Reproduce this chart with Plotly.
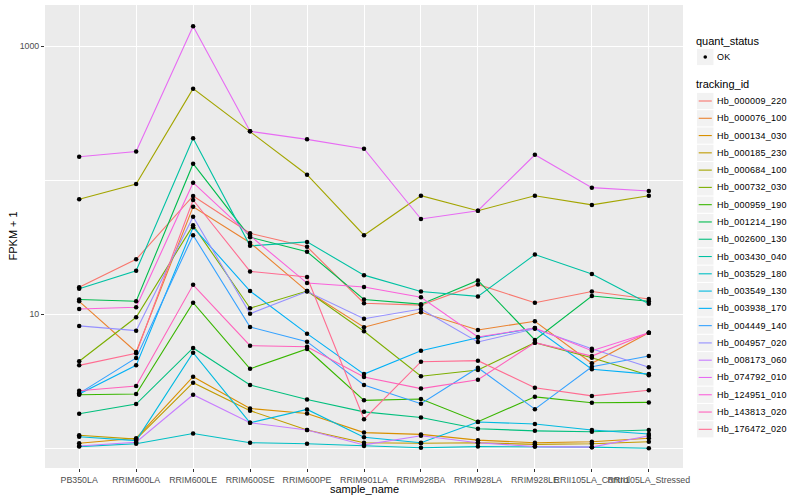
import plotly.graph_objects as go

# ---------------- data ----------------
samples = ["PB350LA", "RRIM600LA", "RRIM600LE", "RRIM600SE", "RRIM600PE", "RRIM901LA",
           "RRIM928BA", "RRIM928LA", "RRIM928LE", "RRII105LA_Control", "RRII105LA_Stressed"]

tracking_ids = ["Hb_000009_220", "Hb_000076_100", "Hb_000134_030", "Hb_000185_230", "Hb_000684_100",
                "Hb_000732_030", "Hb_000959_190", "Hb_001214_190", "Hb_002600_130", "Hb_003430_040",
                "Hb_003529_180", "Hb_003549_130", "Hb_003938_170", "Hb_004449_140", "Hb_004957_020",
                "Hb_008173_060", "Hb_074792_010", "Hb_124951_010", "Hb_143813_020", "Hb_176472_020"]

colors = ["#F8766D", "#EA8331", "#D89000", "#C09B00", "#A3A500", "#7CAE00", "#39B600", "#00BB4E",
          "#00BF7D", "#00C1A3", "#00BFC4", "#00BAE0", "#00B0F6", "#35A2FF", "#9590FF", "#C77CFF",
          "#E76BF3", "#FA62DB", "#FF62BC", "#FF6C91"]

# FPKM + 1 per sample
hb_000009_220 = [15.9, 25.7, 76.4, 40.2, 31.9, 12.1, 11.7, 16.7, 12.2, 14.8, 13.0]
hb_000076_100 = [12.5, 5.23, 63.5, 34.2, 14.9, 8.0, 10.35, 7.64, 8.87, 4.31, 7.29]
hb_000134_030 = [1.09, 1.19, 3.42, 1.98, 1.82, 1.31, 1.27, 1.15, 1.10, 1.12, 1.19]
hb_000185_230 = [1.25, 1.17, 3.09, 1.91, 1.37, 1.10, 1.09, 1.10, 1.07, 1.08, 1.12]
hb_000684_100 = [72.1, 93.8, 483, 232, 110, 38.9, 76.7, 59.3, 76.7, 65.5, 76.7]
hb_000732_030 = [4.46, 9.5, 46.1, 11.1, 14.9, 7.47, 3.45, 3.84, 6.14, 4.74, 3.51]
hb_000959_190 = [2.51, 2.54, 12.2, 3.92, 5.51, 2.28, 2.33, 1.58, 2.42, 2.19, 2.20]
hb_001214_190 = [12.9, 12.5, 133, 37.6, 29.3, 12.9, 11.9, 17.9, 6.43, 13.7, 12.5]
hb_002600_130 = [1.81, 2.14, 5.61, 2.97, 2.31, 1.87, 1.70, 1.40, 1.35, 1.33, 1.37]
hb_003430_040 = [15.5, 21.1, 206, 32.4, 34.7, 19.6, 14.8, 13.6, 27.9, 20.0, 12.0]
hb_003529_180 = [1.03, 1.08, 1.29, 1.10, 1.08, 1.04, 1.01, 1.03, 1.03, 1.02, 1.00]
hb_003549_130 = [1.22, 1.14, 5.17, 1.55, 1.95, 1.21, 1.10, 1.57, 1.52, 1.37, 1.28]
hb_003938_170 = [2.54, 4.16, 44.6, 14.9, 7.17, 3.58, 5.35, 6.69, 7.9, 3.89, 3.58]
hb_004449_140 = [2.57, 4.72, 38.9, 8.04, 6.25, 2.97, 2.15, 3.99, 1.96, 4.06, 4.88]
hb_004957_020 = [8.19, 7.55, 53.5, 10.1, 14.8, 9.27, 10.96, 6.21, 7.8, 5.54, 4.02]
hb_008173_060 = [1.04, 1.11, 2.51, 1.55, 1.37, 1.06, 1.24, 1.10, 1.03, 1.02, 1.24]
hb_074792_010 = [150, 164, 1410, 232, 202, 172, 51.4, 59.3, 155, 88.1, 83.2]
hb_124951_010 = [10.96, 11.3, 96, 38.6, 17.1, 16.0, 13.4, 6.77, 7.9, 5.35, 7.29]
hb_143813_020 = [2.69, 2.92, 16.6, 5.83, 5.73, 3.40, 2.79, 3.25, 6.14, 4.88, 7.29]
hb_176472_020 = [4.16, 5.11, 71.3, 20.9, 19.0, 1.65, 4.43, 4.51, 2.83, 2.46, 2.71]

series = [hb_000009_220, hb_000076_100, hb_000134_030, hb_000185_230, hb_000684_100,
          hb_000732_030, hb_000959_190, hb_001214_190, hb_002600_130, hb_003430_040,
          hb_003529_180, hb_003549_130, hb_003938_170, hb_004449_140, hb_004957_020,
          hb_008173_060, hb_074792_010, hb_124951_010, hb_143813_020, hb_176472_020]

quant_status = ["OK"]

y_tick_vals = [10, 1000]
y_tick_text = ["10", "1000"]
y_minor_vals = [1, 100]

# ---------------- layout geometry ----------------
W, H = 800, 500
L, R, T, B = 45, 117, 5, 32
PW, PH = W - L - R, H - T - B
FONT = "Liberation Sans, Arial, Helvetica, sans-serif"


def px(x):
    return (x - L) / PW


def py(y):
    return (H - B - y) / PH


def spaced(s):
    return '<span style="letter-spacing:0.25px">' + s + '</span>'


fig = go.Figure()

for tid, col, vals in zip(tracking_ids, colors, series):
    fig.add_trace(go.Scatter(x=samples, y=vals, mode="lines", name=tid,
                             line=dict(color=col, width=1.1), showlegend=False,
                             hoverinfo="skip"))

for tid, vals in zip(tracking_ids, series):
    fig.add_trace(go.Scatter(x=samples, y=vals, mode="markers", name=tid,
                             marker=dict(color="black", size=4.5), showlegend=False))

shapes = []
annotations = []

# axis titles
annotations.append(dict(text="sample_name", x=0.5, y=py(488.5), xref="paper", yref="paper",
                        xanchor="center", yanchor="middle", showarrow=False,
                        font=dict(family=FONT, size=11, color="black")))
annotations.append(dict(text="FPKM + 1", x=px(12), y=py(236.5), xref="paper", yref="paper",
                        xanchor="center", yanchor="middle", showarrow=False, textangle=-90,
                        font=dict(family=FONT, size=11, color="black")))

# legend: quant_status
key_x0, key_x1 = 697, 713.5
text_x = 714.5
annotations.append(dict(text="quant_status", x=px(694.5), y=py(40.7), xref="paper", yref="paper",
                        xanchor="left", yanchor="middle", showarrow=False,
                        font=dict(family=FONT, size=11, color="black")))
for i, qs in enumerate(quant_status):
    cy = 57 + i * 17.28
    shapes.append(dict(type="rect", xref="paper", yref="paper", x0=px(key_x0), x1=px(key_x1),
                       y0=py(cy - 8.1), y1=py(cy + 8.1), fillcolor="#F2F2F2", line=dict(width=0)))
    shapes.append(dict(type="circle", xref="paper", yref="paper", x0=px(705.25 - 1.8), x1=px(705.25 + 1.8),
                       y0=py(cy - 1.8), y1=py(cy + 1.8), fillcolor="black", line=dict(width=0)))
    annotations.append(dict(text=spaced(qs), x=px(text_x), y=py(cy), xref="paper", yref="paper",
                            xanchor="left", yanchor="middle", showarrow=False,
                            font=dict(family=FONT, size=9, color="black")))

# legend: tracking_id
annotations.append(dict(text="tracking_id", x=px(694.5), y=py(84.3), xref="paper", yref="paper",
                        xanchor="left", yanchor="middle", showarrow=False,
                        font=dict(family=FONT, size=11, color="black")))
for i, (tid, col) in enumerate(zip(tracking_ids, colors)):
    cy = 101 + i * 17.28
    shapes.append(dict(type="rect", xref="paper", yref="paper", x0=px(key_x0), x1=px(key_x1),
                       y0=py(cy - 8.1), y1=py(cy + 8.1), fillcolor="#F2F2F2", line=dict(width=0)))
    shapes.append(dict(type="line", xref="paper", yref="paper", x0=px(698.7), x1=px(711.8),
                       y0=py(cy), y1=py(cy), line=dict(color=col, width=1.1)))
    annotations.append(dict(text=spaced(tid), x=px(text_x), y=py(cy), xref="paper", yref="paper",
                            xanchor="left", yanchor="middle", showarrow=False,
                            font=dict(family=FONT, size=9, color="black")))

fig.update_layout(
    width=W, height=H,
    margin=dict(l=L, r=R, t=T, b=B, pad=0),
    paper_bgcolor="white",
    plot_bgcolor="#EBEBEB",
    showlegend=False,
    shapes=shapes,
    annotations=annotations,
    font=dict(family=FONT, size=9, color="#4D4D4D"),
    xaxis=dict(type="category", categoryorder="array", categoryarray=samples,
               range=[-0.6, len(samples) - 0.4], showgrid=True, gridcolor="white", gridwidth=1.1,
               zeroline=False, showline=False, ticks="outside", ticklen=3, tickwidth=1,
               tickcolor="#333333", tickfont=dict(family=FONT, size=8.8, color="#4D4D4D"),
               tickangle=0, automargin=False, fixedrange=True),
    yaxis=dict(type="log", range=[-0.147, 3.308], tickmode="array", tickvals=y_tick_vals,
               ticktext=y_tick_text, showgrid=True, gridcolor="white", gridwidth=1.1,
               zeroline=False, showline=False, ticks="outside", ticklen=3, tickwidth=1,
               tickcolor="#333333", tickfont=dict(family=FONT, size=8.8, color="#4D4D4D"),
               minor=dict(tickmode="array", tickvals=y_minor_vals, showgrid=True,
                          gridcolor="white", gridwidth=0.6, ticks=""),
               automargin=False, fixedrange=True),
)

fig.write_html("out.html", config={"displayModeBar": False},
               post_script="document.body.style.margin='0px';document.body.style.overflow='hidden';")
